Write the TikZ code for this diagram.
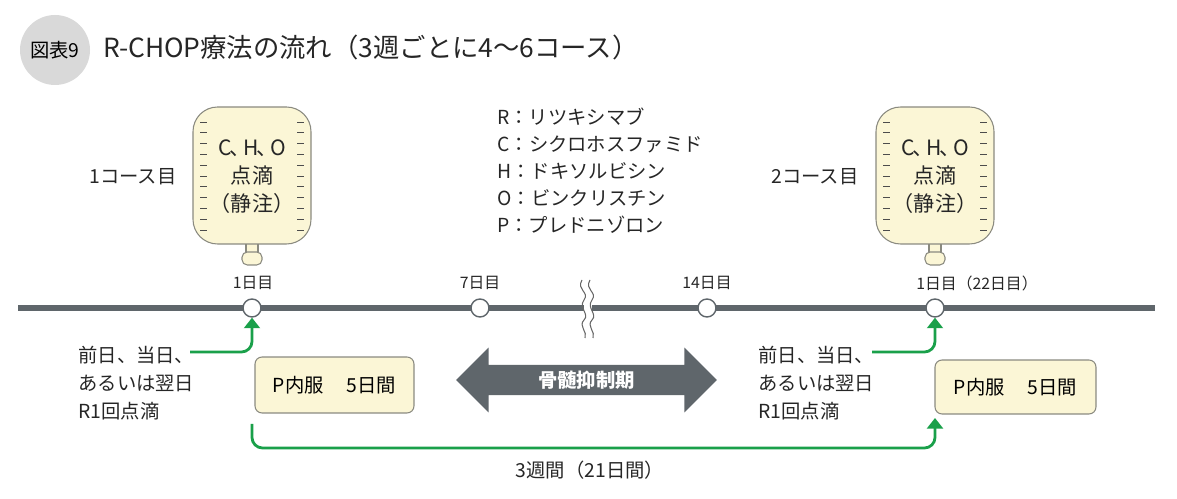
\documentclass[tikz,border=0pt]{standalone}
\usepackage{fontspec}
\setmainfont{Noto Sans CJK JP}
\usetikzlibrary{arrows.meta,shapes.arrows}
\definecolor{tl}{HTML}{5F666B}
\definecolor{gr}{HTML}{1AA04A}
\definecolor{bag}{HTML}{FBF6D6}
\definecolor{bd}{HTML}{8A8A80}
\begin{document}
\begin{tikzpicture}[x=0.02cm,y=-0.02cm,
  txt/.style={font=\fontsize{11}{13}\selectfont,text=black!85,inner sep=0},
  sm/.style={font=\fontsize{9}{11}\selectfont,text=black!85,inner sep=0},
  dot/.style={circle,draw=tl,fill=white,line width=0.8pt,minimum size=0.36cm,inner sep=0},
  garr/.style={draw=gr,line width=1.6pt,rounded corners=6,-{Triangle[length=6pt,width=9pt]}},
  box/.style={draw=bd,fill=bag,rounded corners=4pt,line width=0.6pt}]
\useasboundingbox (0,0) rectangle (1177,499);
% title
\fill[black!15] (55,50) circle (35);
\node[font=\fontsize{11}{13}\selectfont,inner sep=0] (t9) at (55,50) {図表9};
\node[anchor=west,font=\fontsize{15}{18}\selectfont,inner sep=0,text=black!85] (title) at (103,47) {R-CHOP療法の流れ（3週ごとに4〜6コース）};
% timeline
\draw[tl,line width=3.2pt] (18,308) -- (1155,308);
\fill[white] (584,270) rectangle (592,340);
\foreach \xx in {584,592}{\draw[black!60,line width=0.6pt] (\xx-2,280) .. controls (\xx-8,290) and (\xx+6,292) .. (\xx,300) .. controls (\xx-6,308) and (\xx+6,314) .. (\xx,320) .. controls (\xx-6,326) and (\xx+4,332) .. (\xx+1,338);}
\node[dot] (d1) at (252,308) {};
\node[dot] (d7) at (480,308) {};
\node[dot] (d14) at (707,308) {};
\node[dot] (d22) at (935,308) {};
\node[sm] (l1) at (253,283) {1日目};
\node[sm] (l7) at (480,283) {7日目};
\node[sm] (l14) at (707,283) {14日目};
\node[sm,anchor=west] (l22) at (916,283) {1日目（22日目）};
% bags
\foreach \bx/\nm in {252/a,935/b}{
  \draw[box,rounded corners=0] (\bx-6,238) rectangle (\bx+6,254);
  \draw[box,rounded corners=14pt] (\bx-59,107) rectangle (\bx+59,244);
  \draw[box,rounded corners=3pt] (\bx-10,252) rectangle (\bx+10,265);
  \foreach \ty in {0,...,10}{
    \draw[black!70,line width=0.5pt] (\bx-52,122+\ty*10.8) -- (\bx-45,122+\ty*10.8);
    \draw[black!70,line width=0.5pt] (\bx+45,122+\ty*10.8) -- (\bx+52,122+\ty*10.8);}
  \node[txt,align=center,font=\fontsize{12}{16}\selectfont] (bag\nm) at (\bx,177) {C{\kern-0.1em、\kern-0.35em}H{\kern-0.1em、\kern-0.35em}O\\点滴\\（静注）};
}
\node[txt] (c1) at (133,177) {1コース目};
\node[txt] (c2) at (815,177) {2コース目};
% legend
\node[txt,anchor=west,align=left,font=\fontsize{11}{15.4}\selectfont] (leg) at (497,171) {R：リツキシマブ\\C：シクロホスファミド\\H：ドキソルビシン\\O：ビンクリスチン\\P：プレドニゾロン};
% left / right texts
\node[txt,anchor=north west,align=left,font=\fontsize{11}{16}\selectfont] (pl) at (78,346) {前日、当日、\\あるいは翌日\\R1回点滴};
\node[txt,anchor=north west,align=left,font=\fontsize{11}{16}\selectfont] (pr) at (758,346) {前日、当日、\\あるいは翌日\\R1回点滴};
\coordinate (sl) at (190,352);
\coordinate (sr) at (872,352);
\draw[garr] (sl) -- (252,352) -- (d1.south);
\draw[garr] (sr) -- (935,352) -- (d22.south);
% P boxes
\node[box,minimum width=3.18cm,minimum height=1.12cm,font=\fontsize{11}{13}\selectfont] (p1) at (334.5,385) {P内服\hspace{1.2em}5日間};
\node[box,minimum width=3.22cm,minimum height=1.08cm,font=\fontsize{11}{13}\selectfont] (p2) at (1015.5,387) {P内服\hspace{1.2em}5日間};
% double arrow
\node[double arrow,fill=tl,minimum width=1.3cm,minimum height=5.22cm,double arrow head extend=0.3cm,double arrow tip angle=90,inner sep=2pt,font=\fontsize{11}{13}\selectfont\bfseries,text=white] (bm) at (586.5,380) {骨髄抑制期};
% bottom arrow
\coordinate (bs) at (252,424);
\draw[garr] (bs) -- (252,448) -- (935,448) -- (935,418);
\node[txt] (w3) at (590,470) {3週間（21日間）};
\end{tikzpicture}
\end{document}
